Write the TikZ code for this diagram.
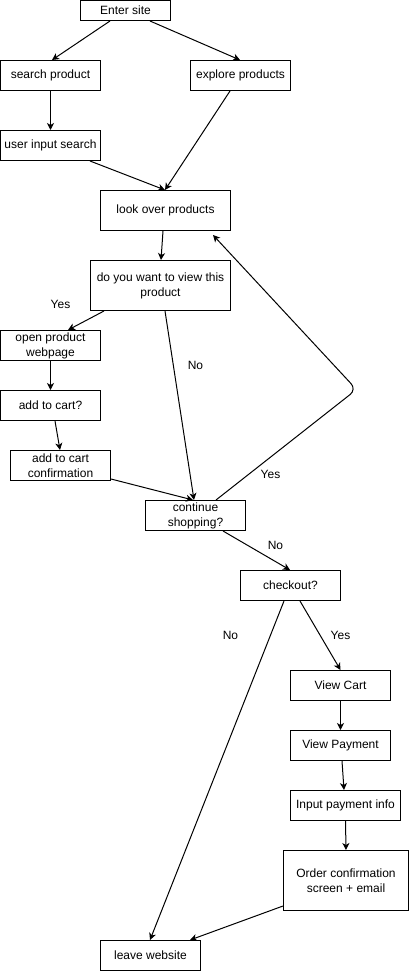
\documentclass[tikz,border=0pt]{standalone}
\usepackage{fontspec}
\setmainfont{Liberation Sans}
\usetikzlibrary{arrows.meta,calc}
\tikzset{
  box/.style={draw=black, line width=1pt, fill=white, inner sep=0pt, align=center,
    font=\fontsize{12}{15}\selectfont, minimum width=100pt, minimum height=30pt},
  arr/.style={draw=black, line width=1pt, -{Stealth[length=7pt,width=7pt,inset=2pt]}},
  lbl/.style={font=\fontsize{12}{15}\selectfont, inner sep=0pt}
}
\begin{document}
\begin{tikzpicture}[x=1pt,y=-1pt]
\useasboundingbox[fill=white] (-0.5,-0.5) rectangle (408.5,970.5);
\node[box, minimum width=90pt, minimum height=20pt] (enter) at (125,10) {Enter site};
\node[box] (search) at (50,75) {search product};
\node[box] (explore) at (240,75) {explore products};
\node[box] (input) at (50,145) {user input search};
\node[box, minimum width=130pt, minimum height=40pt] (look) at (165,210) {look over products};
\node[box, minimum width=140pt, minimum height=50pt] (view) at (160,285) {do you want to view this\\product};
\node[box] (open) at (50,345) {open product\\webpage};
\node[box] (add) at (50,405) {add to cart?};
\node[box] (conf) at (60,465) {add to cart\\confirmation};
\node[box] (cont) at (195,515) {continue\\shopping?};
\node[box] (check) at (290,585) {checkout?};
\node[box] (cart) at (340,685) {View Cart};
\node[box] (pay) at (340,745) {View Payment};
\node[box, minimum width=110pt] (info) at (345,805) {Input payment info};
\node[box, minimum width=125pt, minimum height=60pt] (order) at (345.5,880) {Order confirmation\\screen + email};
\node[box] (leave) at (150,955) {leave website};

\draw[arr] ($(enter.south west)+(30,0)$) -- ($(search.north west)+(52,0)$);
\draw[arr] ($(enter.south west)+(70,0)$) -- ($(explore.north west)+(50,0)$);
\draw[arr] (search.south) -- (input.north);
\draw[arr] ($(explore.south west)+(40,0)$) -- ($(look.north west)+(65,0)$);
\draw[arr] ($(input.south west)+(90,0)$) -- ($(look.north west)+(65,0)$);
\draw[arr] ($(look.south west)+(63,0)$) -- ($(view.north west)+(71,0)$);
\draw[arr] ($(view.south west)+(14,0)$) -- ($(open.north west)+(68,0)$);
\draw[arr] ($(view.south west)+(75,0)$) -- ($(cont.north west)+(49,0)$);
\draw[arr] (open.south) -- (add.north);
\draw[arr] ($(add.south west)+(55,0)$) -- ($(conf.north west)+(50,0)$);
\draw[arr] ($(conf.south east)+(0,-2)$) -- ($(cont.north west)+(48,0)$);
\coordinate (bend) at (356,389);
\draw[arr, rounded corners=8pt] ($(cont.north west)+(71,0)$) -- (bend) -- ($(look.south west)+(113,4)$);
\draw[arr] ($(cont.south west)+(78,0)$) -- ($(check.north west)+(50,0)$);
\draw[arr] ($(check.south west)+(44,0)$) -- ($(leave.north west)+(50,0)$);
\draw[arr] ($(check.south west)+(60,0)$) -- (cart.north);
\draw[arr] (cart.south) -- (pay.north);
\draw[arr] ($(pay.south west)+(52,0)$) -- ($(info.north west)+(54,0)$);
\draw[arr] (info.south) -- (order.north);
\draw[arr] ($(order.south west)+(0,-5)$) -- ($(leave.north west)+(90,0)$);

\node[lbl] (l1) at (60,304) {Yes};
\node[lbl] (l2) at (195,365) {No};
\node[lbl] (l3) at (270,474) {Yes};
\node[lbl] (l4) at (275,545) {No};
\node[lbl] (l5) at (230,635) {No};
\node[lbl] (l6) at (340,635) {Yes};
\end{tikzpicture}
\end{document}
